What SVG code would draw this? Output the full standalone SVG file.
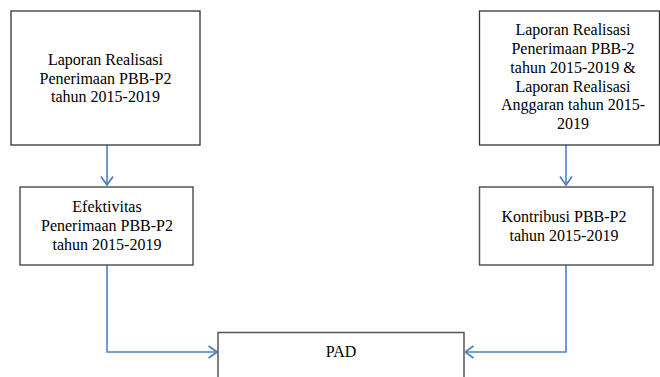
<svg xmlns="http://www.w3.org/2000/svg" width="660" height="377" viewBox="0 0 660 377">
<style>
.box{fill:#fff;stroke:#333;stroke-width:1.3}
.box2{fill:#fff;stroke:#555;stroke-width:1.5}
.t{font-family:'Liberation Serif','Times New Roman',Times,serif;font-size:16px;fill:#000;text-anchor:middle}
.c{fill:none;stroke:#4f81bd;stroke-width:1.6}
</style>
<defs>
<marker id="ah" viewBox="0 0 12 14" refX="11.5" refY="7" markerWidth="12" markerHeight="14" markerUnits="userSpaceOnUse" orient="auto">
<path d="M3,1 L11.5,7 L3,13" fill="none" stroke="#4f81bd" stroke-width="1.8"/>
</marker>
</defs>
<rect width="660" height="377" fill="#fff"/>
<g id="connectors">
<path class="c" d="M107,145 V185" marker-end="url(#ah)"/>
<path class="c" d="M566,145 V185" marker-end="url(#ah)"/>
<path class="c" d="M107,265 V352 H217" marker-end="url(#ah)"/>
<path class="c" d="M566,265 V352 H465" marker-end="url(#ah)"/>
</g>
<g id="n1">
<rect class="box" x="11" y="11" width="189" height="134"/>
<text class="t" x="105.5" y="65">Laporan Realisasi</text>
<text class="t" x="105.5" y="84">Penerimaan PBB-P2</text>
<text class="t" x="105.5" y="102">tahun 2015-2019</text>
</g>
<g id="n2">
<rect class="box" x="479.5" y="11" width="180" height="134"/>
<text class="t" x="573" y="35">Laporan Realisasi</text>
<text class="t" x="573" y="54">Penerimaan PBB-2</text>
<text class="t" x="573" y="73">tahun 2015-2019 &amp;</text>
<text class="t" x="573" y="92">Laporan Realisasi</text>
<text class="t" x="573" y="110">Anggaran tahun 2015-</text>
<text class="t" x="573" y="129">2019</text>
</g>
<g id="n3">
<rect class="box2" x="20" y="187" width="173" height="78"/>
<text class="t" x="107" y="212">Efektivitas</text>
<text class="t" x="107" y="231">Penerimaan PBB-P2</text>
<text class="t" x="107" y="250">tahun 2015-2019</text>
</g>
<g id="n4">
<rect class="box2" x="479.5" y="187" width="173.5" height="78"/>
<text class="t" x="564" y="222">Kontribusi PBB-P2</text>
<text class="t" x="564" y="241">tahun 2015-2019</text>
</g>
<g id="n5">
<rect class="box2" x="218" y="332.5" width="246" height="60"/>
<text class="t" x="341" y="357">PAD</text>
</g>
</svg>
